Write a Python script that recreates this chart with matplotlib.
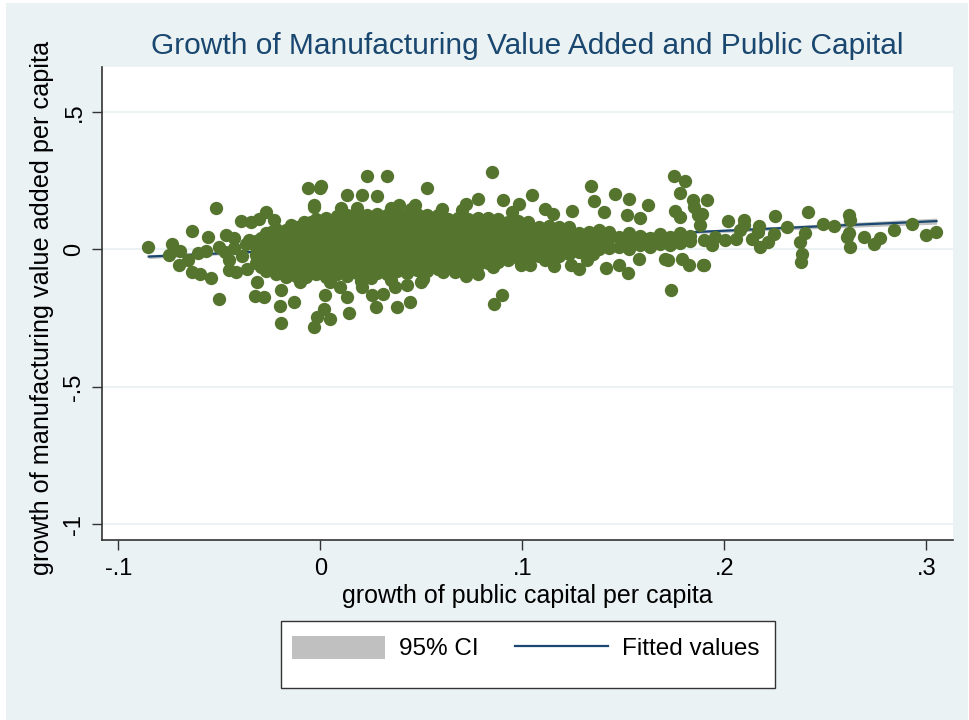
import numpy as np
import matplotlib.pyplot as plt
from matplotlib.lines import Line2D
from matplotlib.patches import Patch, Rectangle

plt.rcParams['font.family'] = ['Liberation Sans', 'DejaVu Sans']

# dense core of the cloud, one column of points per x value
col_x = [-0.032, -0.027, -0.022, -0.017, -0.012, -0.007, -0.002, 0.003, 0.008, 0.013,
         0.018, 0.023, 0.028, 0.033, 0.038, 0.043, 0.048, 0.053, 0.058, 0.063,
         0.068, 0.073, 0.078, 0.083, 0.088, 0.093, 0.098, 0.103, 0.108, 0.113,
         0.118, 0.123, 0.128, 0.133, 0.138, 0.143, 0.148, 0.153, 0.158, 0.163,
         0.168, 0.173, 0.178, 0.183]
col_y = [
    [-0.05, -0.02, 0.01, 0.03],
    [-0.08, -0.045, -0.01, 0.025, 0.06],
    [-0.09, -0.055, -0.02, 0.015, 0.05, 0.075],
    [-0.10, -0.065, -0.03, 0.005, 0.04, 0.07],
    [-0.095, -0.06, -0.025, 0.01, 0.045, 0.08],
    [-0.10, -0.07, -0.035, 0.0, 0.035, 0.07, 0.095],
    [-0.09, -0.055, -0.02, 0.015, 0.05, 0.085, 0.11],
    [-0.10, -0.065, -0.03, 0.005, 0.04, 0.075, 0.115],
    [-0.09, -0.055, -0.02, 0.015, 0.05, 0.085, 0.12],
    [-0.095, -0.06, -0.025, 0.01, 0.045, 0.08, 0.125],
    [-0.085, -0.05, -0.015, 0.02, 0.055, 0.09, 0.13],
    [-0.09, -0.055, -0.02, 0.015, 0.05, 0.085, 0.125],
    [-0.085, -0.05, -0.015, 0.02, 0.055, 0.09, 0.13],
    [-0.09, -0.055, -0.02, 0.015, 0.05, 0.085, 0.125],
    [-0.08, -0.045, -0.01, 0.025, 0.06, 0.095, 0.13],
    [-0.085, -0.05, -0.015, 0.02, 0.055, 0.09, 0.125],
    [-0.075, -0.04, -0.005, 0.03, 0.065, 0.10, 0.13],
    [-0.08, -0.045, -0.01, 0.025, 0.06, 0.095, 0.125],
    [-0.07, -0.035, 0.0, 0.035, 0.07, 0.105, 0.125],
    [-0.065, -0.03, 0.005, 0.04, 0.075, 0.11],
    [-0.06, -0.025, 0.01, 0.045, 0.08, 0.115],
    [-0.065, -0.03, 0.005, 0.04, 0.075, 0.11],
    [-0.055, -0.02, 0.015, 0.05, 0.085, 0.115],
    [-0.05, -0.015, 0.02, 0.055, 0.09, 0.115],
    [-0.045, -0.01, 0.025, 0.06, 0.095, 0.11],
    [-0.04, -0.005, 0.03, 0.065, 0.10],
    [-0.03, 0.005, 0.04, 0.075, 0.105],
    [-0.035, 0.0, 0.035, 0.07, 0.10],
    [-0.025, 0.01, 0.045, 0.08],
    [-0.02, 0.015, 0.05, 0.085],
    [-0.025, 0.01, 0.045, 0.08],
    [-0.015, 0.02, 0.055, 0.08],
    [-0.01, 0.025, 0.06],
    [-0.005, 0.03, 0.065],
    [0.0, 0.035, 0.07],
    [0.005, 0.04, 0.065],
    [0.01, 0.045],
    [0.0, 0.035, 0.06],
    [0.015, 0.05],
    [0.01, 0.04],
    [0.02, 0.055],
    [0.015, 0.045],
    [0.025, 0.06],
    [0.03, 0.05],
]

# in-between columns that close the gaps of the core
mid_x = [-0.0295, -0.0245, -0.0195, -0.0145, -0.0095, -0.0045, 0.0005, 0.0055, 0.0105, 0.0155,
         0.0205, 0.0255, 0.0305, 0.0355, 0.0405, 0.0455, 0.0505, 0.0555, 0.0605, 0.0655,
         0.0705, 0.0755, 0.0805, 0.0855, 0.0905, 0.0955, 0.1005, 0.1055, 0.1105, 0.1155,
         0.1205, 0.1255, 0.1305, 0.1355, 0.1405]
mid_y = [
    [-0.065, -0.03, 0.005, 0.04],
    [-0.07, -0.035, 0.0, 0.035, 0.065],
    [-0.08, -0.045, -0.01, 0.025, 0.06],
    [-0.08, -0.045, -0.01, 0.025, 0.06, 0.09],
    [-0.085, -0.05, -0.015, 0.02, 0.055, 0.085],
    [-0.075, -0.04, -0.005, 0.03, 0.065, 0.10],
    [-0.08, -0.045, -0.01, 0.025, 0.06, 0.095],
    [-0.075, -0.04, -0.005, 0.03, 0.065, 0.10],
    [-0.08, -0.045, -0.01, 0.025, 0.06, 0.10],
    [-0.07, -0.035, 0.0, 0.035, 0.07, 0.105],
    [-0.07, -0.035, 0.0, 0.035, 0.07, 0.105],
    [-0.07, -0.035, 0.0, 0.035, 0.07, 0.105],
    [-0.07, -0.035, 0.0, 0.035, 0.07, 0.105],
    [-0.065, -0.03, 0.005, 0.04, 0.075, 0.11],
    [-0.065, -0.03, 0.005, 0.04, 0.075, 0.11],
    [-0.06, -0.025, 0.01, 0.045, 0.08, 0.11],
    [-0.06, -0.025, 0.01, 0.045, 0.08, 0.11],
    [-0.055, -0.02, 0.015, 0.05, 0.085, 0.115],
    [-0.05, -0.015, 0.02, 0.055, 0.09],
    [-0.045, -0.01, 0.025, 0.06, 0.095],
    [-0.045, -0.01, 0.025, 0.06, 0.095],
    [-0.04, -0.005, 0.03, 0.065, 0.10],
    [-0.035, 0.0, 0.035, 0.07, 0.10],
    [-0.03, 0.005, 0.04, 0.075],
    [-0.025, 0.01, 0.045, 0.08],
    [-0.02, 0.015, 0.05, 0.085],
    [-0.015, 0.02, 0.055, 0.085],
    [-0.01, 0.025, 0.06],
    [-0.005, 0.03, 0.065],
    [0.0, 0.035, 0.065],
    [0.0, 0.035, 0.065],
    [0.005, 0.04],
    [0.01, 0.045],
    [0.015, 0.05],
    [0.02, 0.05],
]

# scattered points around the core
out_x = [-0.0854, -0.0517, -0.0637, -0.0555, -0.0734, -0.0750, -0.0700, -0.0637, -0.0594, -0.0542,
         -0.0504, -0.0696, -0.0607, -0.0567, -0.0654, -0.0394, -0.0345, -0.0271, -0.0304, -0.0230,
         -0.0468, -0.0427, -0.0353, -0.0452, -0.0419, -0.0361, -0.0312, -0.0325, -0.0279, -0.0202,
         -0.0197, -0.0131, -0.0197, -0.0033, -0.0016, -0.0061, 0.0000, -0.0033, -0.0082,
         -0.0470, -0.0430, -0.0390, -0.0450, -0.0370, -0.0500,
         0.0230, 0.0329, 0.0005, 0.0131, 0.0205, 0.0282, 0.0526, 0.0849, -0.0030, 0.0389,
         0.0468, 0.0780, 0.0906, 0.0722,
         0.0025, 0.0020, 0.0049, 0.0144, 0.0276, 0.0378, 0.0443, 0.0255, 0.0312, 0.0131,
         0.0099, 0.0205, 0.0369, 0.0427, 0.0500, 0.0510, 0.0859, 0.0900, 0.0608, 0.0665,
         0.0722, 0.0780, 0.0854,
         0.1750, 0.1806, 0.1782, 0.1338, 0.1355, 0.1457, 0.1527, 0.1622, 0.1046, 0.0985,
         0.1113, 0.1248, 0.1404, 0.1519, 0.1584, 0.1844, 0.1913, 0.1850, 0.1870, 0.1880,
         0.1757, 0.1780, 0.1737, 0.1412, 0.1524, 0.1480, 0.1280, 0.1240, 0.1158, 0.1322,
         0.0994, 0.1040, 0.1110, 0.1708, 0.1720, 0.1823, 0.1893, 0.1576, 0.1790, 0.1350,
         0.1890, 0.2016, 0.2097, 0.2172, 0.2250, 0.2312, 0.2414, 0.2400, 0.2373, 0.2384,
         0.2381, 0.2488, 0.2542, 0.2616, 0.2619, 0.2606, 0.2624, 0.2693, 0.2742, 0.2772,
         0.2841, 0.2931, 0.2997, 0.3046, 0.1897, 0.1937, 0.2003, 0.2060, 0.2135, 0.2176,
         0.2217, 0.2246, 0.2167, 0.2075, 0.1954, 0.1900, 0.2620, 0.2098,
         0.0100, 0.0350, 0.0450, 0.0600, 0.0700, 0.0180, 0.0950, 0.1150,
         0.0050, 0.0200, 0.0350, -0.0100, 0.0250]
out_y = [0.008, 0.150, 0.066, 0.046, 0.021, -0.022, -0.056, -0.083, -0.091, -0.103,
         -0.180, -0.007, -0.013, -0.004, -0.040, 0.103, 0.100, 0.136, 0.112, 0.106,
         0.051, 0.043, 0.033, -0.076, -0.083, -0.070, -0.119, -0.171, -0.174, -0.207,
         -0.267, -0.192, -0.149, -0.283, -0.246, 0.223, 0.223, 0.154, 0.100,
         -0.010, 0.005, -0.025, -0.040, 0.020, 0.010,
         0.266, 0.266, 0.229, 0.197, 0.199, 0.193, 0.223, 0.280, 0.160, 0.160,
         0.160, 0.185, 0.178, 0.166,
         -0.167, -0.216, -0.252, -0.231, -0.210, -0.210, -0.192, -0.167, -0.161, -0.173,
         -0.137, -0.137, -0.137, -0.131, -0.119, -0.107, -0.200, -0.167, -0.083, -0.083,
         -0.095, -0.089, -0.064,
         0.267, 0.248, 0.206, 0.230, 0.176, 0.203, 0.184, 0.160, 0.199, 0.166,
         0.146, 0.138, 0.136, 0.124, 0.115, 0.178, 0.178, 0.153, 0.125, 0.090,
         0.139, 0.117, -0.147, -0.068, -0.086, -0.057, -0.070, -0.058, -0.062, -0.040,
         -0.058, -0.057, -0.040, -0.034, -0.040, -0.058, -0.056, -0.034, -0.035, -0.016,
         0.130, 0.102, 0.106, 0.084, 0.121, 0.081, 0.136, 0.061, 0.027, -0.016,
         -0.044, 0.094, 0.087, 0.124, 0.059, 0.045, 0.008, 0.047, 0.018, 0.043,
         0.072, 0.091, 0.051, 0.063, -0.055, 0.015, 0.035, 0.039, 0.039, 0.008,
         0.027, 0.055, 0.063, 0.070, 0.045, 0.035, 0.108, 0.090,
         0.150, 0.150, 0.148, 0.148, 0.145, 0.152, 0.135, 0.130,
         -0.118, -0.115, -0.112, -0.120, -0.105]

# linear fit and its 95% band
fit_x = [-0.085, 0.0, 0.05, 0.1, 0.15, 0.2, 0.25, 0.305]
fit_y = [-0.026, 0.002, 0.019, 0.035, 0.052, 0.068, 0.085, 0.103]
ci_half = [0.007, 0.003, 0.002, 0.003, 0.004, 0.006, 0.008, 0.011]

x_ticks = [-0.1, 0, 0.1, 0.2, 0.3]
x_labels = ['-.1', '0', '.1', '.2', '.3']
y_ticks = [-1, -0.5, 0, 0.5]
y_labels = ['-1', '-.5', '0', '.5']

scat_x = np.concatenate([np.repeat(col_x, [len(c) for c in col_y]),
                         np.repeat(mid_x, [len(c) for c in mid_y]), out_x])
scat_y = np.concatenate([np.concatenate(col_y), np.concatenate(mid_y), out_y])

bg = '#eaf2f3'
green = '#55752f'
navy = '#1a476f'

fig = plt.figure(figsize=(9.7, 7.2), dpi=100, facecolor='white')
# light background panel, leaving a thin white margin at the left and top
fig.patches.append(Rectangle((6 / 970, 0), 962 / 970, 717 / 720, transform=fig.transFigure,
                             facecolor=bg, edgecolor='none', zorder=-10))
ax = fig.add_axes([0.1052, 0.25, 0.8773, 0.6569])
ax.set_facecolor('white')

fx = np.array(fit_x)
fy = np.array(fit_y)
hw = np.array(ci_half)
ax.fill_between(fx, fy - hw, fy + hw, color='#c0c0c0', lw=0, zorder=2)
ax.plot(fx, fy, color=navy, lw=1.6, zorder=3)
ax.scatter(scat_x, scat_y, s=92, color=green, linewidths=0, zorder=4)

ax.set_xlim(-0.1081, 0.3132)
ax.set_ylim(-1.057, 0.6635)
ax.set_xticks(x_ticks)
ax.set_xticklabels(x_labels)
ax.set_yticks(y_ticks)
ax.set_yticklabels(y_labels, rotation=90, va='center')
ax.tick_params(axis='both', direction='out', length=7, width=1, labelsize=17, color='#333333')
ax.tick_params(axis='x', pad=6)
ax.tick_params(axis='y', pad=5)
ax.grid(axis='y', color=bg, lw=1.5, zorder=1)
ax.set_axisbelow(True)

for side in ['top', 'right']:
    ax.spines[side].set_visible(False)
for side in ['left', 'bottom']:
    ax.spines[side].set_color('#333333')
    ax.spines[side].set_linewidth(1.2)

ax.set_xlabel('growth of public capital per capita', fontsize=18)
ax.xaxis.set_label_coords(0.5, -0.118)
ax.xaxis.label.set_va('center')
ax.set_ylabel('growth of manufacturing value added per capita', fontsize=18.2)
ax.yaxis.set_label_coords(-0.0704, 0.49)
ax.yaxis.label.set_va('center')

fig.text(0.5438, 0.936, 'Growth of Manufacturing Value Added and Public Capital',
         fontsize=21.5, color=navy, ha='center', va='center')

# legend box below the plot
fig.patches.append(Rectangle((281 / 970, 1 - 688 / 720), 494 / 970, 67 / 720,
                             transform=fig.transFigure, facecolor='white',
                             edgecolor='#333333', lw=1.0, zorder=1))
handles = [Patch(facecolor='#c0c0c0', edgecolor='none'),
           Line2D([], [], color=navy, lw=1.6)]
fig.legend(handles, ['95% CI', 'Fitted values'], loc='center',
           bbox_to_anchor=(0.5423, 0.1), ncol=2, frameon=False, fontsize=17.5,
           handlelength=3.8, handleheight=1.1, handletextpad=0.6, columnspacing=1.5)

fig.savefig('out.png', dpi=100, facecolor='white')
